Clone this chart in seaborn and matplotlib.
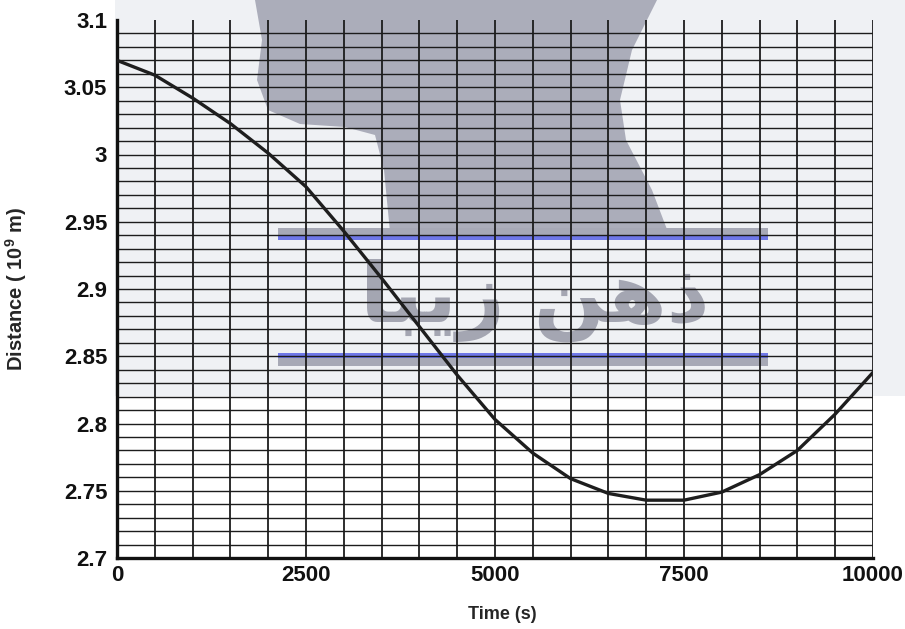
import numpy as np
import seaborn as sns
import matplotlib.pyplot as plt
from matplotlib.patches import Rectangle, Polygon

# values
time_s = [0, 500, 1000, 1500, 2000, 2500, 3000, 3500, 4000, 4500, 5000,
          5500, 6000, 6500, 7000, 7500, 8000, 8500, 9000, 9500, 10000]
distance = [3.070, 3.059, 3.042, 3.023, 3.001, 2.976, 2.943, 2.908, 2.872, 2.836, 2.803,
            2.778, 2.759, 2.748, 2.743, 2.743, 2.749, 2.762, 2.780, 2.807, 2.838]

x_ticks = [0, 2500, 5000, 7500, 10000]
x_tick_labels = ['0', '2500', '5000', '7500', '10000']
y_ticks = [2.7, 2.75, 2.8, 2.85, 2.9, 2.95, 3.0, 3.05, 3.1]
y_tick_labels = ['2.7', '2.75', '2.8', '2.85', '2.9', '2.95', '3', '3.05', '3.1']

sns.set_style('white')
plt.rcParams['font.family'] = ['Liberation Sans', 'DejaVu Sans']
plt.rcParams['font.weight'] = 'bold'
plt.rcParams['mathtext.fontset'] = 'custom'
plt.rcParams['mathtext.rm'] = 'Liberation Sans:bold'
plt.rcParams['mathtext.it'] = 'Liberation Sans:bold'
plt.rcParams['mathtext.bf'] = 'Liberation Sans:bold'

W, H = 905, 629
fig = plt.figure(figsize=(W / 100, H / 100), dpi=100)
ax = fig.add_axes([117 / W, 1 - 558 / H, 756 / W, 538 / H])
ax.set_facecolor('none')


def fxy(px, py):
    return (px / W, 1 - py / H)


# watermark behind the graph paper
fig.add_artist(Rectangle(fxy(115, 396), (W - 115) / W, 396 / H, transform=fig.transFigure,
                         color='#eff1f4', lw=0, zorder=-3))
blob = [(255, 0), (262, 40), (257, 80), (268, 110), (300, 124), (345, 127), (375, 135),
        (384, 170), (390, 232), (668, 232), (652, 190), (626, 140), (620, 100), (632, 50), (657, 0)]
fig.add_artist(Polygon([fxy(*p) for p in blob], closed=True, transform=fig.transFigure,
                       color='#abadba', lw=0, zorder=-2))
for top, h, c in [(228, 7, '#a7a9b6'), (235, 5, '#6f78e8'), (353, 5, '#6f78e8'), (358, 8, '#a7a9b6')]:
    fig.add_artist(Rectangle(fxy(278, top + h), 490 / W, h / H, transform=fig.transFigure,
                             color=c, lw=0, zorder=-1))
fig.text(535 / W, 1 - 300 / H, '\uFE8E\uFE92\uFBFE\uFEAF \uFEE6\uFEEB\uFEAB',
         family=['DejaVu Sans'], weight='bold', fontsize=60, color='#a4a6b2',
         ha='center', va='center', zorder=-1)

# graph paper grid
ax.vlines(np.arange(500, 10001, 500), 2.7, 3.1, colors='#1c1c1c', lw=1.3, zorder=1)
ax.hlines(np.round(np.arange(2.71, 3.095, 0.01), 2), 0, 10000, colors='#1c1c1c', lw=1.0, zorder=1)

sns.lineplot(x=time_s, y=distance, ax=ax, color='#1e1e1e', linewidth=2.4, zorder=3)

ax.set_xlim(0, 10000)
ax.set_ylim(2.7, 3.1)
ax.set_xticks(x_ticks)
ax.set_xticklabels(x_tick_labels)
ax.set_yticks(y_ticks)
ax.set_yticklabels(y_tick_labels)
ax.tick_params(direction='in', length=9, width=2, colors='#111111', labelsize=16)
ax.tick_params(axis='y', pad=7)
ax.tick_params(axis='x', pad=5)

for s in ['top', 'right']:
    ax.spines[s].set_visible(False)
for s in ['left', 'bottom']:
    ax.spines[s].set_linewidth(2.4)
    ax.spines[s].set_color('#111111')

ax.set_xlabel('Time (s)', fontsize=13, fontweight='bold')
ax.set_ylabel('Distance ( 10$^9$ m)', fontsize=14.5, fontweight='bold')
ax.xaxis.set_label_coords(0.51, -0.09)
ax.yaxis.set_label_coords(-0.116, 0.5)

fig.savefig('out.png', dpi=100)
plt.close()
